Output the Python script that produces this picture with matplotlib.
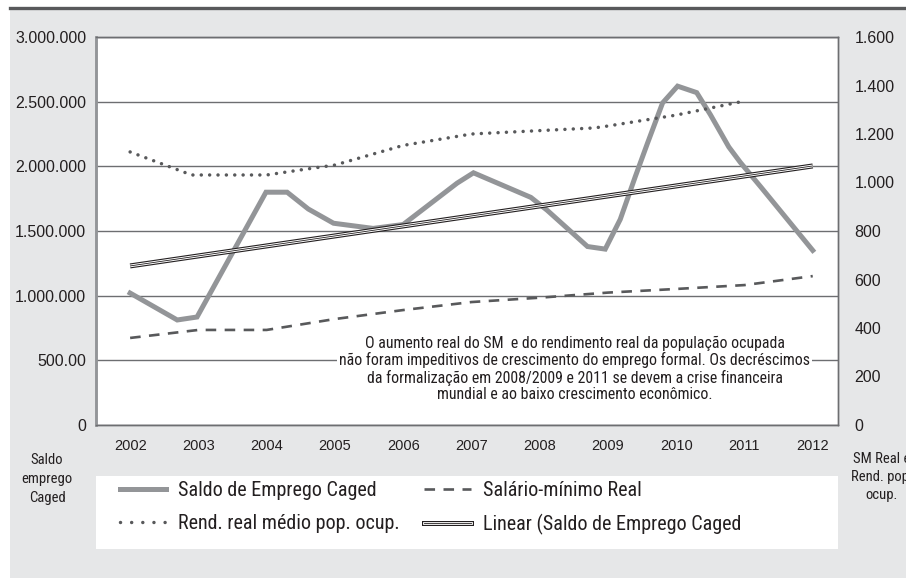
import matplotlib
matplotlib.use("Agg")
import matplotlib.pyplot as plt
from matplotlib import font_manager
from matplotlib.lines import Line2D
from matplotlib.patches import Rectangle

# ---------------------------------------------------------------------
# Data
# ---------------------------------------------------------------------
years = [2002, 2003, 2004, 2005, 2006, 2007, 2008, 2009, 2010, 2011, 2012]

# Saldo de Emprego Caged (left axis), sampled along the drawn curve
saldo_x = [2002.0, 2002.69, 2002.98, 2003.99, 2004.30, 2004.61, 2004.98,
           2005.56, 2006.0, 2006.79, 2007.03, 2007.87, 2008.11, 2008.70,
           2008.96, 2009.18, 2009.40, 2009.58, 2009.80, 2010.02, 2010.30,
           2010.50, 2010.77, 2010.94, 2011.24, 2012.0]
saldo = [1020000, 812000, 835000, 1800000, 1800000, 1670000, 1560000,
         1520000, 1550000, 1870000, 1950000, 1760000, 1660000, 1380000,
         1360000, 1590000, 1920000, 2180000, 2490000, 2620000, 2570000,
         2400000, 2150000, 2030000, 1840000, 1350000]

# Linear trend of Saldo (left axis)
trend_x = [2002, 2012]
trend = [1230000, 2003000]

# Salário-mínimo Real (right axis)
sm_real = [359, 392, 392, 437, 474, 507, 525, 546, 561, 577, 614]

# Rend. real médio pop. ocup. (right axis)
rend_x = [2002.0, 2002.9, 2004.0, 2004.5, 2005.0, 2006.0, 2007.0, 2008.0,
          2008.8, 2009.0, 2010.0, 2011.0]
rend = [1126, 1031, 1031, 1052, 1072, 1153, 1200, 1214, 1225, 1233, 1278, 1336]

left_ticks = [0, 500000, 1000000, 1500000, 2000000, 2500000, 3000000]
left_labels = ["0", "500.00", "1.000.000", "1.500.000", "2.000.000",
               "2.500.000", "3.000.000"]
right_ticks = [0, 200, 400, 600, 800, 1000, 1200, 1400, 1600]
right_labels = ["0", "200", "400", "600", "800", "1.000", "1.200", "1.400",
                "1.600"]

note = ("O aumento real do SM  e do rendimento real da população ocupada\n"
        "não foram impeditivos de crescimento do emprego formal. Os decréscimos\n"
        "da formalização em 2008/2009 e 2011 se devem a crise financeira\n"
        "mundial e ao baixo crescimento econômico.")

# ---------------------------------------------------------------------
# Fonts: a condensed face for notes/legend, a plain one for ticks
# ---------------------------------------------------------------------
installed = {f.name for f in font_manager.fontManager.ttflist}
narrow = "DejaVu Sans"
for cand in ("Liberation Sans Narrow", "Roboto Condensed", "Open Sans Condensed"):
    if cand in installed:
        narrow = cand
        break
NARROW = font_manager.FontProperties(family=narrow, stretch="condensed")
plain = "Liberation Sans"

TXT = "#231f20"
GRID = "#6d6e71"
BG = "#e6e7e8"

# ---------------------------------------------------------------------
# Figure
# ---------------------------------------------------------------------
W, H = 906, 578
fig = plt.figure(figsize=(W / 100, H / 100), dpi=100)
fig.patch.set_facecolor("white")

# gray panel + dark rule on top
fig.patches.append(Rectangle((10 / W, 0), 1, 1 - 9 / H, transform=fig.transFigure,
                             facecolor=BG, edgecolor="none", zorder=-5))
fig.lines.append(Line2D([10 / W, 1], [1 - 7.5 / H, 1 - 7.5 / H],
                        transform=fig.transFigure, color="#58595b", lw=2.4,
                        zorder=-4))

ax = fig.add_axes([96 / W, 1 - 425 / H, (838 - 96) / W, (425 - 37) / H])
ax.set_facecolor("white")
ax2 = ax.twinx()

# left axis series
ax.plot(saldo_x, saldo, color="#939598", lw=3.6, solid_joinstyle="miter", zorder=3)
ax.plot(trend_x, trend, color="#231f20", lw=3.6, solid_capstyle="butt", zorder=4)
ax.plot(trend_x, trend, color="white", lw=2.0, solid_capstyle="butt", zorder=5)
ax.plot(trend_x, trend, color="#231f20", lw=0.6, solid_capstyle="butt", zorder=6)

# right axis series
ax2.plot(years, sm_real, color="#58595b", lw=1.9, linestyle=(0, (4, 3.2)))
ax2.plot(rend_x, rend, color="#58595b", lw=2.5, linestyle=(0, (0.01, 2.4)),
         dash_capstyle="round")

ax.set_xlim(2001.5, 2012.37)
ax.set_ylim(0, 3000000)
ax2.set_ylim(0, 1600)

ax.set_yticks(left_ticks)
ax.set_yticklabels(left_labels)
ax2.set_yticks(right_ticks)
ax2.set_yticklabels(right_labels)
ax.set_xticks(years)
ax.set_xticklabels([str(y) for y in years])

ax.grid(axis="y", color=GRID, lw=1.0)
ax.set_axisbelow(True)
ax.tick_params(axis="y", length=0, pad=7, labelsize=11.5, labelcolor=TXT)
ax.tick_params(axis="x", length=0, pad=10, labelsize=10.5, labelcolor=TXT)
ax2.tick_params(axis="y", length=0, pad=12, labelsize=11.5, labelcolor=TXT)
for lab in ax.get_yticklabels() + ax.get_xticklabels() + ax2.get_yticklabels():
    lab.set_family(plain)

for a in (ax, ax2):
    for side in ("top", "right", "bottom"):
        a.spines[side].set_color("#6d6e71")
        a.spines[side].set_linewidth(1.0)
    a.spines["left"].set_color("#939598")
    a.spines["left"].set_linewidth(1.8)

# annotation with white background hiding the gridline
ax.text(0.645, 0.144, note, transform=ax.transAxes, ha="center", va="center",
        multialignment="center", fontproperties=NARROW, fontsize=11.4, color=TXT,
        linespacing=1.12, zorder=7,
        bbox=dict(facecolor="white", edgecolor="none", pad=1.5))

# axis titles under the axes
fig.text(47 / W, 1 - 479 / H, "Saldo\nemprego\nCaged", ha="center", va="center",
         fontproperties=NARROW, fontsize=10.5, color=TXT, linespacing=1.45)
fig.text(882 / W, 1 - 477 / H, "SM Real e\nRend. pop.\nocup.", ha="center",
         va="center", fontproperties=NARROW, fontsize=10.5, color=TXT,
         linespacing=1.35)

# legend: white panel + two-column legend
fig.patches.append(Rectangle((96 / W, 1 - 549 / H), (838 - 96) / W, 73 / H,
                             transform=fig.transFigure, facecolor="white",
                             edgecolor="none", zorder=1))
h_saldo = Line2D([], [], color="#939598", lw=3.6)
h_sm = Line2D([], [], color="#58595b", lw=1.9, linestyle=(0, (4, 3.2)))
h_rend = Line2D([], [], color="#58595b", lw=2.5, linestyle=(0, (0.01, 3.2)),
                dash_capstyle="round")
h_trend = (Line2D([], [], color="#231f20", lw=3.6),
           Line2D([], [], color="white", lw=2.0),
           Line2D([], [], color="#231f20", lw=0.6))
legprop = NARROW.copy()
legprop.set_size(14.5)
leg = fig.legend([h_saldo, h_rend, h_sm, h_trend],
                 ["Saldo de Emprego Caged", "Rend. real médio pop. ocup.",
                  "Salário-mínimo Real", "Linear (Saldo de Emprego Caged"],
                 ncol=2, loc="upper left", bbox_to_anchor=(120 / W, 1 - 481 / H),
                 frameon=False, borderpad=0, borderaxespad=0,
                 handlelength=2.3, handletextpad=0.6, columnspacing=1.2,
                 labelspacing=0.7, prop=legprop)
for t in leg.get_texts():
    t.set_color(TXT)
leg.set_zorder(2)

fig.savefig("out.png", dpi=100)
